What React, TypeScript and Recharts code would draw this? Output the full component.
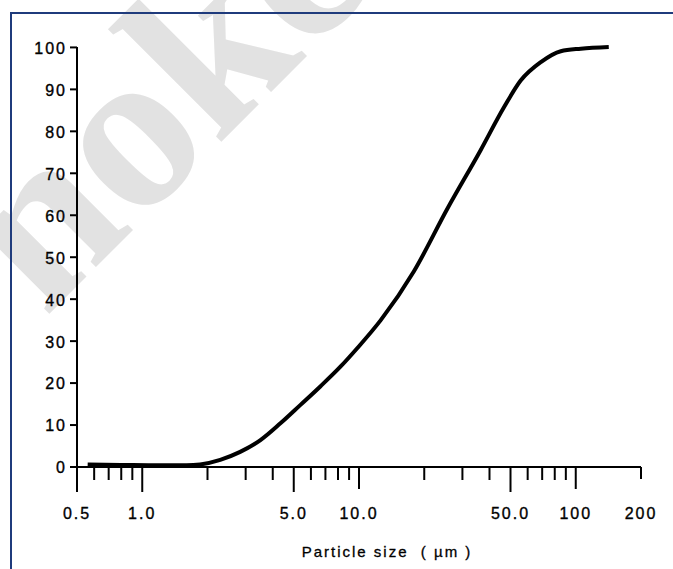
import { Line, LineChart, XAxis, YAxis } from 'recharts'

// cumulative undersize (%) vs particle size (µm)
const SIZES = [0.56, 0.8, 1.2, 1.6, 1.85, 2.29, 2.83, 3.51, 4.34, 5.37, 6.63, 8.21, 9.81, 12.6, 17.9, 25.6, 36.4, 46.5, 55.7, 69.0, 85.3, 105.5, 142]
const CUMULATIVE = [0.6, 0.5, 0.4, 0.4, 0.6, 1.7, 3.6, 6.4, 10.4, 14.8, 19.2, 23.9, 28.3, 35.0, 46.6, 61.6, 75.5, 85.6, 92.1, 96.5, 99.1, 99.7, 100.1]

const X_TICKS = [0.5, 0.6, 0.7, 0.8, 0.9, 1, 2, 3, 4, 5, 6, 7, 8, 9, 10, 20, 30, 40, 50, 60, 70, 80, 90, 100, 200]
const X_LABELS: Record<number, string> = { 0.5: '0.5', 1: '1.0', 5: '5.0', 10: '10.0', 50: '50.0', 100: '100', 200: '200' }
const Y_TICKS = [0, 10, 20, 30, 40, 50, 60, 70, 80, 90, 100]

const data = SIZES.map((size, i) => ({ size, pct: CUMULATIVE[i] }))

const FONT = '"Liberation Sans", Arial, sans-serif'
const INK = '#000'

function XTick(props: any) {
  const { x, y, payload } = props
  const v = payload.value as number
  const label = X_LABELS[v]
  let len = 13
  if (label && v !== 200) len = v === 10 || v === 100 ? 22 : 25
  if (v === 200) len = 12
  return (
    <g>
      <line x1={x} x2={x} y1={y} y2={y + len} stroke={INK} strokeWidth={2} />
      {label && (
        <text x={x} y={y + 52} textAnchor="middle" fontFamily={FONT} fontSize={16} letterSpacing={2} fill={INK} stroke={INK} strokeWidth={0.35}>
          {label}
        </text>
      )}
    </g>
  )
}

function YTick(props: any) {
  const { x, y, payload } = props
  return (
    <g>
      <line x1={x - 7} x2={x} y1={y} y2={y} stroke={INK} strokeWidth={2} />
      <text x={x - 10} y={y} dy="0.4em" textAnchor="end" fontFamily={FONT} fontSize={16} letterSpacing={2} fill={INK} stroke={INK} strokeWidth={0.35}>
        {payload.value}
      </text>
    </g>
  )
}

function AxisTitle(props: any) {
  const vb = props.viewBox
  return (
    <text
      x={vb.x + vb.width / 2 + 28}
      y={vb.y + 90}
      textAnchor="middle"
      fontFamily={FONT}
      fontSize={15}
      letterSpacing={2}
      fill={INK}
      stroke={INK}
      strokeWidth={0.3}
      style={{ whiteSpace: 'pre' }}
    >
      Particle size  ( µm )
    </text>
  )
}

export default function App() {
  return (
    <div style={{ position: 'absolute', left: 0, top: 0, width: 673, height: 569, overflow: 'hidden', background: '#fff' }}>
      <svg width={673} height={569} style={{ position: 'absolute', left: 0, top: 0 }}>
        <text
          x={45}
          y={318}
          transform="rotate(-45 45 318)"
          fontFamily='"Liberation Serif", "Times New Roman", serif'
          fontWeight="bold"
          fontSize={230}
          fill="#e2e2e2"
        >
          noke
        </text>
      </svg>
      <div
        style={{
          position: 'absolute',
          left: 10,
          top: 12,
          width: 700,
          height: 600,
          borderLeft: '2px solid #1f3b7c',
          borderTop: '2px solid #1f3b7c',
        }}
      />
      <div style={{ position: 'absolute', left: 0, top: 0 }}>
        <LineChart width={673} height={569} data={data} margin={{ top: 47, right: 32, left: 17, bottom: 40 }}>
          <XAxis
            dataKey="size"
            type="number"
            scale="log"
            domain={[0.5, 200]}
            ticks={X_TICKS}
            interval={0}
            allowDataOverflow
            height={62}
            tickSize={0}
            tickMargin={0}
            tickLine={false}
            tick={<XTick />}
            axisLine={{ stroke: INK, strokeWidth: 2 }}
            label={{ content: <AxisTitle /> }}
          />
          <YAxis
            type="number"
            domain={[0, 100]}
            ticks={Y_TICKS}
            interval={0}
            width={60}
            tickSize={0}
            tickMargin={0}
            tickLine={false}
            tick={<YTick />}
            axisLine={{ stroke: INK, strokeWidth: 2 }}
          />
          <Line
            dataKey="pct"
            type="monotone"
            stroke={INK}
            strokeWidth={4}
            dot={false}
            isAnimationActive={false}
          />
        </LineChart>
      </div>
    </div>
  )
}
